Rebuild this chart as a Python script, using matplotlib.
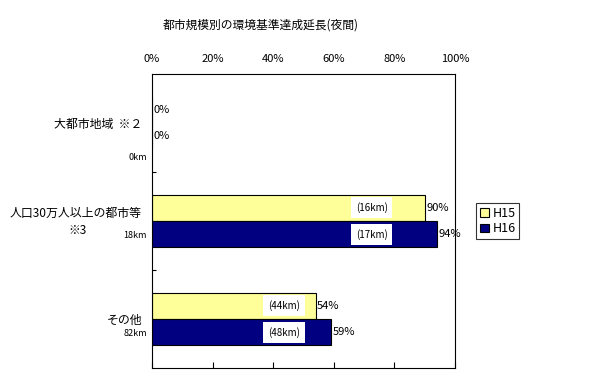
import matplotlib
matplotlib.use("Agg")
import matplotlib.pyplot as plt
from matplotlib.transforms import blended_transform_factory

plt.rcParams['font.family'] = ['Noto Sans CJK JP', 'DejaVu Sans']

categories = ["大都市地域  ※２", "人口30万人以上の都市等", "その他"]
category_notes = [None, "※3", None]
total_km = ["0km", "18km", "82km"]
h15 = [0, 90, 54]
h16 = [0, 94, 59]
h15_km = [None, "(16km)", "(44km)"]
h16_km = [None, "(17km)", "(48km)"]

fig = plt.figure(figsize=(5.89, 3.80), dpi=100)
ax = fig.add_axes([152/589, 1 - 368/380, 303/589, 294/380])

ypos = list(range(len(categories)))
bh = 0.27
ax.barh([y - bh/2 for y in ypos], h15, height=bh, color="#FFFF99", edgecolor="black", linewidth=0.8, label="H15")
ax.barh([y + bh/2 for y in ypos], h16, height=bh, color="#000080", edgecolor="black", linewidth=0.8, label="H16")

ax.set_xlim(0, 100)
ax.set_ylim(2.5, -0.5)
ax.set_xticks([0, 20, 40, 60, 80, 100])
ax.set_xticklabels(["0%", "20%", "40%", "60%", "80%", "100%"], fontsize=8)
ax.tick_params(axis='x', which='both', bottom=True, top=False, labelbottom=False, labeltop=True,
               direction='in', length=4, pad=7)
ax.set_yticks([0.5, 1.5])
ax.set_yticklabels([])
ax.tick_params(axis='y', direction='in', length=3)

# value labels
for vals, off in ((h15, -bh/2), (h16, bh/2)):
    for i, v in enumerate(vals):
        ax.text(v + 0.5, i + off, f"{v}%", va='center', ha='left', fontsize=8)

# km labels in white boxes inside the bars
box_x = [None, 72.5, 43.5]
for kms, off in ((h15_km, -bh/2), (h16_km, bh/2)):
    for i, k in enumerate(kms):
        if k is None:
            continue
        ax.text(box_x[i], i + off, k, va='center', ha='center', fontsize=7,
                bbox=dict(facecolor='white', edgecolor='none', pad=3.5))

trans = blended_transform_factory(ax.transAxes, ax.transData)
for i, c in enumerate(categories):
    if category_notes[i]:
        ax.text(-10/303, i - 0.08, c, transform=trans, ha='right', va='center', fontsize=8.6)
        ax.text(-75/303, i + 0.10, category_notes[i], transform=trans, ha='center', va='center', fontsize=8.6)
    else:
        ax.text(-10/303, i + 0.01, c, transform=trans, ha='right', va='center', fontsize=8.6)
    ax.text(-5/303, i + 0.35 if i == 0 else i + 0.15, total_km[i], transform=trans, ha='right', va='center',
            fontsize=6.5)

ax.set_title("都市規模別の環境基準達成延長(夜間)", fontsize=8.5, pad=33, x=0.36)

leg = ax.legend(loc='center left', bbox_to_anchor=(1.07, 0.5), fontsize=9, frameon=True, fancybox=False,
                handlelength=0.7, handleheight=0.7, handletextpad=0.3, borderpad=0.3, labelspacing=0.2,
                borderaxespad=0)
leg.get_frame().set_edgecolor("black")
leg.get_frame().set_linewidth(0.8)

fig.savefig("out.png", dpi=100)
